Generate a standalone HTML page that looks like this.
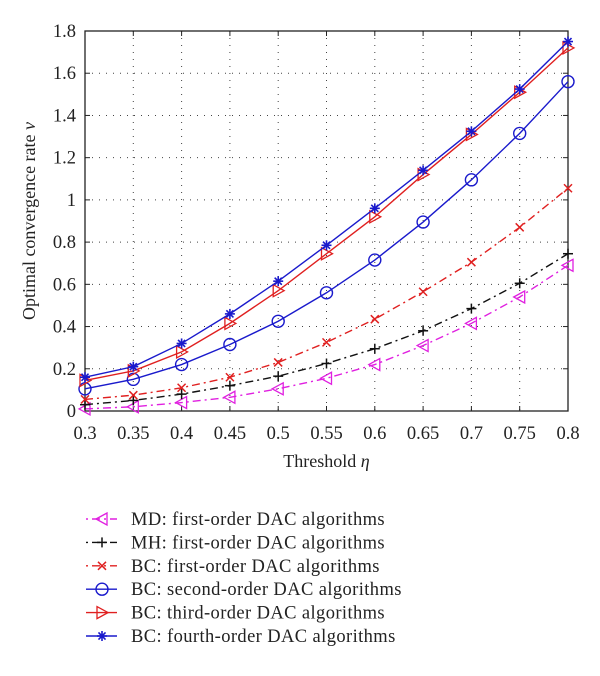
<!DOCTYPE html>
<html><head><meta charset="utf-8"><style>
body{margin:0;background:#fff;width:600px;height:671px;overflow:hidden}
text{font-family:"Liberation Serif",serif;fill:#222}
</style></head><body>
<svg id="chart" width="600" height="671" xmlns="http://www.w3.org/2000/svg"></svg>
<script>
const categories=[0.3,0.35,0.4,0.45,0.5,0.55,0.6,0.65,0.7,0.75,0.8];
const xTicks=["0.3","0.35","0.4","0.45","0.5","0.55","0.6","0.65","0.7","0.75","0.8"];
const yTicks=[0,0.2,0.4,0.6,0.8,1,1.2,1.4,1.6,1.8];
const mdValues=[0.01,0.02,0.04,0.065,0.105,0.155,0.22,0.31,0.415,0.54,0.69];
const mhValues=[0.03,0.05,0.08,0.12,0.165,0.225,0.295,0.38,0.485,0.605,0.745];
const bc1Values=[0.055,0.075,0.11,0.16,0.23,0.325,0.435,0.565,0.705,0.87,1.055];
const bc2Values=[0.105,0.15,0.22,0.315,0.425,0.56,0.715,0.895,1.095,1.315,1.56];
const bc3Values=[0.145,0.19,0.28,0.415,0.57,0.745,0.92,1.12,1.31,1.51,1.72];
const bc4Values=[0.16,0.21,0.32,0.46,0.615,0.785,0.96,1.14,1.325,1.525,1.75];
const seriesNames=["MD: first-order DAC algorithms","MH: first-order DAC algorithms","BC: first-order DAC algorithms","BC: second-order DAC algorithms","BC: third-order DAC algorithms","BC: fourth-order DAC algorithms"];

const L=85,R=568,T=31,B=411;
const xs=v=>L+(v-0.3)/(0.5)*(R-L);
const ys=v=>B-v/1.8*(B-T);
const svg=document.getElementById('chart');
const NS="http://www.w3.org/2000/svg";
function mk(tag,a,parent){const e=document.createElementNS(NS,tag);for(const k in a)e.setAttribute(k,a[k]);(parent||svg).appendChild(e);return e;}

const grid=mk('g',{});


categories.forEach((c,i)=>{
  if(i>0&&i<categories.length-1)mk('line',{x1:xs(c),x2:xs(c),y1:T,y2:B,stroke:'#444','stroke-width':1,'stroke-dasharray':'1 6'},grid);
  mk('line',{x1:xs(c),x2:xs(c),y1:B,y2:B-5,stroke:'#222'},grid);
  mk('line',{x1:xs(c),x2:xs(c),y1:T,y2:T+5,stroke:'#222'},grid);
  const t=mk('text',{x:xs(c),y:B+28,'text-anchor':'middle','font-size':18.5});
  t.textContent=xTicks[i];
  
  
});
yTicks.forEach(v=>{
  if(v>0&&v<1.8)mk('line',{x1:L,x2:R,y1:ys(v),y2:ys(v),stroke:'#444','stroke-width':1,'stroke-dasharray':'1 6'},grid);
  mk('line',{x1:L,x2:L+5,y1:ys(v),y2:ys(v),stroke:'#222'},grid);
  mk('line',{x1:R,x2:R-5,y1:ys(v),y2:ys(v),stroke:'#222'},grid);
  const t=mk('text',{x:L-9,y:ys(v)+6,'text-anchor':'end','font-size':18.5});
  t.textContent=String(v);
  
  
});
const frame=mk('rect',{x:L,y:T,width:R-L,height:B-T,fill:'none',stroke:'#222','stroke-width':1.3});


const xt=mk('text',{x:(L+R)/2,y:B+56,'text-anchor':'middle','font-size':18});
xt.innerHTML='Threshold <tspan font-style="italic">η</tspan>';


const yt=mk('text',{x:0,y:0,'text-anchor':'middle','font-size':18,transform:`translate(35,${(T+B)/2}) rotate(-90)`});
yt.innerHTML='Optimal convergence rate <tspan font-style="italic">ν</tspan>';



function marker(g,type,x,y,col){
  if(type==='tl')mk('polygon',{points:`${x-6},${y} ${x+5},${y-6} ${x+5},${y+6}`,fill:'none',stroke:col,'stroke-width':1.3},g);
  else if(type==='tr')mk('polygon',{points:`${x+6},${y} ${x-5},${y-6} ${x-5},${y+6}`,fill:'none',stroke:col,'stroke-width':1.3},g);
  else if(type==='plus'){mk('line',{x1:x-5,x2:x+5,y1:y,y2:y,stroke:col,'stroke-width':1.5},g);mk('line',{x1:x,x2:x,y1:y-5,y2:y+5,stroke:col,'stroke-width':1.5},g);}
  else if(type==='x'){mk('line',{x1:x-4,x2:x+4,y1:y-4,y2:y+4,stroke:col,'stroke-width':1.5},g);mk('line',{x1:x-4,x2:x+4,y1:y+4,y2:y-4,stroke:col,'stroke-width':1.5},g);}
  else if(type==='o')mk('circle',{cx:x,cy:y,r:6,fill:'none',stroke:col,'stroke-width':1.4},g);
  else if(type==='star'){for(let a=0;a<180;a+=45){const r=a*Math.PI/180;mk('line',{x1:x-5*Math.cos(r),x2:x+5*Math.cos(r),y1:y-5*Math.sin(r),y2:y+5*Math.sin(r),stroke:col,'stroke-width':1.6},g);}}
}
const series=[
  {v:mdValues,c:'#e020e0',m:'tl',d:'8 4 2 4',n:'series-md'},
  {v:mhValues,c:'#111',m:'plus',d:'8 4 2 4',n:'series-mh'},
  {v:bc1Values,c:'#e02020',m:'x',d:'8 4 2 4',n:'series-bc1'},
  {v:bc2Values,c:'#1a1acc',m:'o',d:'',n:'series-bc2'},
  {v:bc3Values,c:'#e02020',m:'tr',d:'',n:'series-bc3'},
  {v:bc4Values,c:'#1a1acc',m:'star',d:'',n:'series-bc4'}
];
series.forEach(s=>{
  const g=mk('g',{});
  
  
  mk('polyline',{points:s.v.map((v,i)=>xs(categories[i])+','+ys(v)).join(' '),fill:'none',stroke:s.c,'stroke-width':1.4,'stroke-dasharray':s.d},g);
  s.v.forEach((v,i)=>marker(g,s.m,xs(categories[i]),ys(v),s.c));
});
const lg=mk('g',{});


series.forEach((s,i)=>{
  const y=519+i*23.4;
  const e=mk('g',{},lg);
  
  
  mk('line',{x1:86,x2:117,y1:y,y2:y,stroke:s.c,'stroke-width':1.4,'stroke-dasharray':s.d?'2 4 8 4':''},e);
  marker(e,s.m,102,y,s.c);
  const t=mk('text',{x:131,y:y+6,'font-size':18.5,'letter-spacing':0.4},e);
  t.textContent=seriesNames[i];
});
</script>
</body></html>
